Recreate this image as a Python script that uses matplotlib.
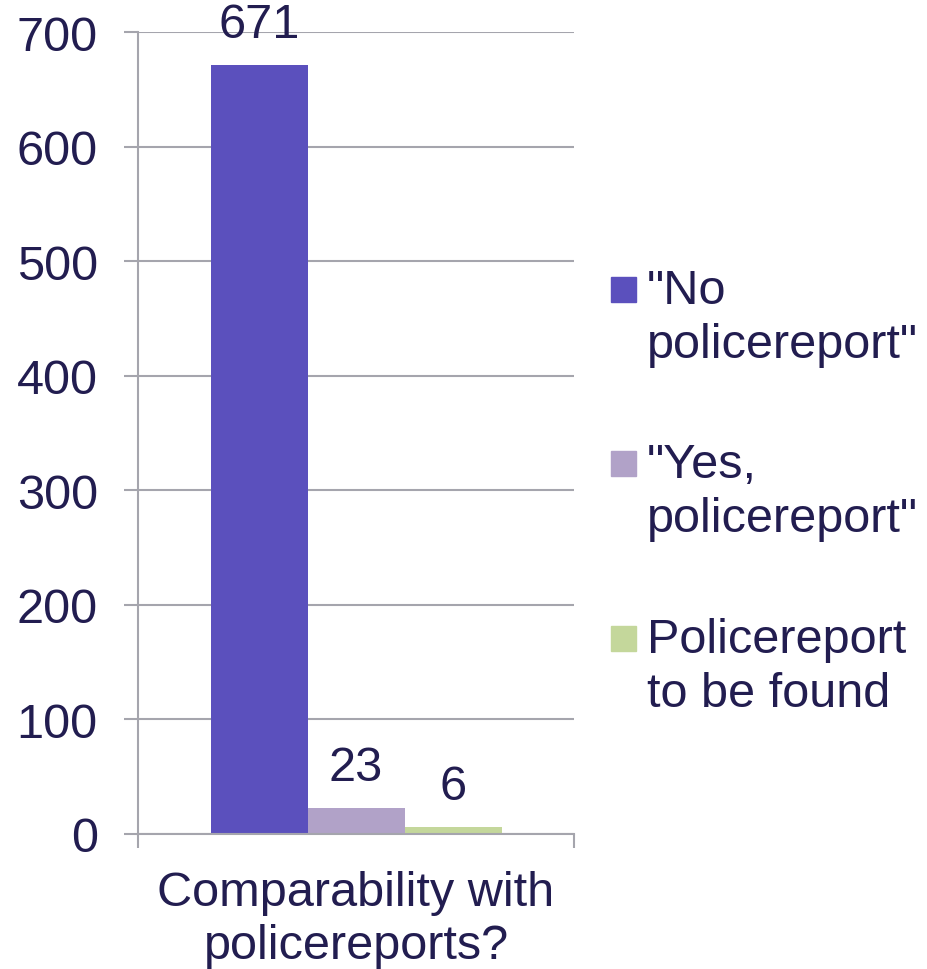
import matplotlib
matplotlib.use("Agg")
import matplotlib.pyplot as plt
from matplotlib.patches import Rectangle

plt.rcParams['font.family'] = ['Liberation Sans', 'DejaVu Sans']

category = "Comparability with\npolicereports?"
series_names = ['"No\npolicereport"', '"Yes,\npolicereport"', 'Policereport\nto be found']
values = [671, 23, 6]
colors = ['#5B50BD', '#B1A2C8', '#C4D79B']
yticks = [0, 100, 200, 300, 400, 500, 600, 700]

text_color = '#221D50'
grid_color = '#A5A5AD'
FS = 35

W, H = 928, 970
fig = plt.figure(figsize=(W / 100, H / 100), dpi=100)
ax = fig.add_axes([138 / W, 1 - 835 / H, (574 - 138) / W, (835 - 33) / H])

bw = 97 / 436
for i, (v, c) in enumerate(zip(values, colors)):
    x = 0.5 + (i - 1) * bw
    ax.bar(x, v, width=bw, color=c, zorder=3)
    ax.annotate(str(v), (x, v), xytext=(0, 20), textcoords='offset points',
                ha='center', va='baseline', fontsize=FS, color=text_color, zorder=4)

ax.set_xlim(0, 1)
ax.set_ylim(0, 700)
ax.set_yticks(yticks)
ax.set_xticks([0, 1])
ax.set_xticklabels(['', ''])
ax.yaxis.grid(True, color=grid_color, linewidth=1.5, zorder=0)
ax.tick_params(axis='y', direction='out', length=10, width=1.5, color=grid_color,
               labelsize=FS, labelcolor=text_color, pad=19)
ax.tick_params(axis='x', direction='out', length=10, width=1.5, color=grid_color)
for s in ['top', 'right']:
    ax.spines[s].set_visible(False)
for s in ['left', 'bottom']:
    ax.spines[s].set_color(grid_color)
    ax.spines[s].set_linewidth(1.5)
ax.spines['bottom'].set_zorder(5)

fig.text(356 / W, 1 - 871 / H, category, ha='center', va='top', fontsize=FS,
         color=text_color, linespacing=1.22)

# legend
leg_tops = [278, 452, 627]
for name, c, t in zip(series_names, colors, leg_tops):
    fig.add_artist(Rectangle((611 / W, 1 - (t + 25) / H), 25 / W, 25 / H,
                             transform=fig.transFigure, color=c))
    fig.text(647 / W, 1 - (t - 9) / H, name, ha='left', va='top', fontsize=FS,
             color=text_color, linespacing=1.27)

fig.savefig('out.png', dpi=100)
